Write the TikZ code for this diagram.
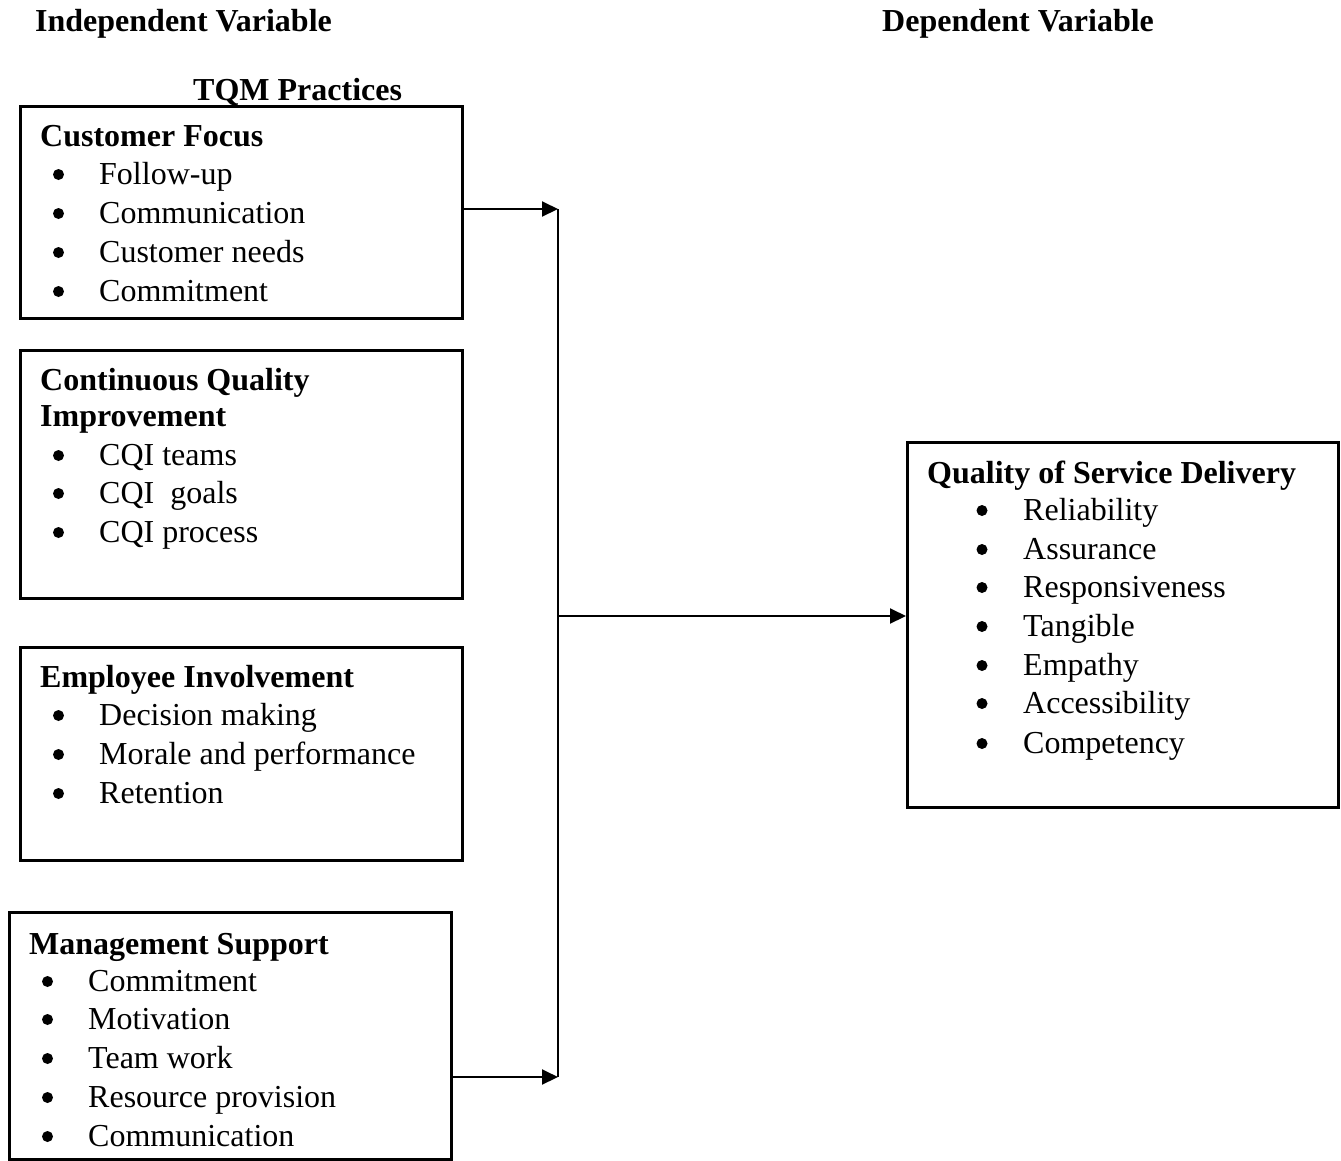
\documentclass[tikz,border=0pt]{standalone}
\usepackage{fontspec}
\setmainfont{Liberation Serif}
\usepackage{tikz}
\usetikzlibrary{arrows.meta,calc,positioning}

\begin{document}
\begin{tikzpicture}[x=1pt, y=-1pt,
        box/.style={draw, line width=2.5pt, rectangle, inner sep=0pt, anchor=north west},
        head/.style={anchor=base west, inner sep=0pt, font=\fontsize{32}{39}\selectfont\bfseries},
        item/.style={anchor=base west, inner sep=0pt, font=\fontsize{32}{39}\selectfont},
        dot/.style={circle, fill, inner sep=0pt, minimum size=11pt},
        arr/.style={line width=2pt, -{Triangle[length=16pt, width=15pt]}}]
        \useasboundingbox (0,0) rectangle (1341,1160);

        % titles
        \node[head] (indep) at (35,31) {Independent Variable};
        \node[head] (dep) at (882,31) {Dependent Variable};
        \node[head] (tqm) at (193,100) {TQM Practices};

        % customer focus
        \node[box, minimum width=442pt, minimum height=212pt] (cf) at (19,105) {};
        \node[head] (cf-h) at (40,146) {Customer Focus};
        \node[dot] (cf-b1) at (58.5,174.5) {};
        \node[item] (cf-1) at (99,184) {Follow-up};
        \node[dot] (cf-b2) at (58.5,213.5) {};
        \node[item] (cf-2) at (99,223) {Communication};
        \node[dot] (cf-b3) at (58.5,252.5) {};
        \node[item] (cf-3) at (99,262) {Customer needs};
        \node[dot] (cf-b4) at (58.5,291.5) {};
        \node[item] (cf-4) at (99,301) {Commitment};

        % continuous quality improvement
        \node[box, minimum width=442pt, minimum height=248pt] (cqi) at (19,349) {};
        \node[head] (cqi-h1) at (40,390) {Continuous Quality};
        \node[head] (cqi-h2) at (40,426) {Improvement};
        \node[dot] (cqi-b1) at (58.5,455.5) {};
        \node[item] (cqi-1) at (99,465) {CQI teams};
        \node[dot] (cqi-b2) at (58.5,493.5) {};
        \node[item] (cqi-2) at (99,503) {CQI\ \ goals};
        \node[dot] (cqi-b3) at (58.5,532.5) {};
        \node[item] (cqi-3) at (99,542) {CQI process};

        % employee involvement
        \node[box, minimum width=442pt, minimum height=213pt] (ei) at (19,646) {};
        \node[head] (ei-h) at (40,687) {Employee Involvement};
        \node[dot] (ei-b1) at (58.5,715.5) {};
        \node[item] (ei-1) at (99,725) {Decision making};
        \node[dot] (ei-b2) at (58.5,754.5) {};
        \node[item] (ei-2) at (99,764) {Morale and performance};
        \node[dot] (ei-b3) at (58.5,793.5) {};
        \node[item] (ei-3) at (99,803) {Retention};

        % management support
        \node[box, minimum width=442pt, minimum height=247pt] (ms) at (8,911) {};
        \node[head] (ms-h) at (29,954) {Management Support};
        \node[dot] (ms-b1) at (47.5,981.5) {};
        \node[item] (ms-1) at (88,991) {Commitment};
        \node[dot] (ms-b2) at (47.5,1019.5) {};
        \node[item] (ms-2) at (88,1029) {Motivation};
        \node[dot] (ms-b3) at (47.5,1058.5) {};
        \node[item] (ms-3) at (88,1068) {Team work};
        \node[dot] (ms-b4) at (47.5,1097.5) {};
        \node[item] (ms-4) at (88,1107) {Resource provision};
        \node[dot] (ms-b5) at (47.5,1136.5) {};
        \node[item] (ms-5) at (88,1146) {Communication};

        % quality of service delivery
        \node[box, minimum width=431pt, minimum height=365pt] (qsd) at (906,441) {};
        \node[head] (qsd-h) at (927,483) {Quality of Service Delivery};
        \node[dot] (qsd-b1) at (982,510.5) {};
        \node[item] (qsd-1) at (1023,520) {Reliability};
        \node[dot] (qsd-b2) at (982,549.5) {};
        \node[item] (qsd-2) at (1023,559) {Assurance};
        \node[dot] (qsd-b3) at (982,587.5) {};
        \node[item] (qsd-3) at (1023,597) {Responsiveness};
        \node[dot] (qsd-b4) at (982,626.5) {};
        \node[item] (qsd-4) at (1023,636) {Tangible};
        \node[dot] (qsd-b5) at (982,665.5) {};
        \node[item] (qsd-5) at (1023,675) {Empathy};
        \node[dot] (qsd-b6) at (982,703.5) {};
        \node[item] (qsd-6) at (1023,713) {Accessibility};
        \node[dot] (qsd-b7) at (982,743.5) {};
        \node[item] (qsd-7) at (1023,753) {Competency};

        % connectors
        \coordinate (jtop) at (558,209);
        \coordinate (jmid) at (558,616);
        \coordinate (jbot) at (558,1077);
        \draw [line width=2pt] (jtop) -- (jbot);
        \draw [arr] (jtop -| cf.east) -- (jtop);
        \draw [arr] (jbot -| ms.east) -- (jbot);
        \draw [arr] (jmid) -- (jmid -| qsd.west);
    \end{tikzpicture}
\end{document}
